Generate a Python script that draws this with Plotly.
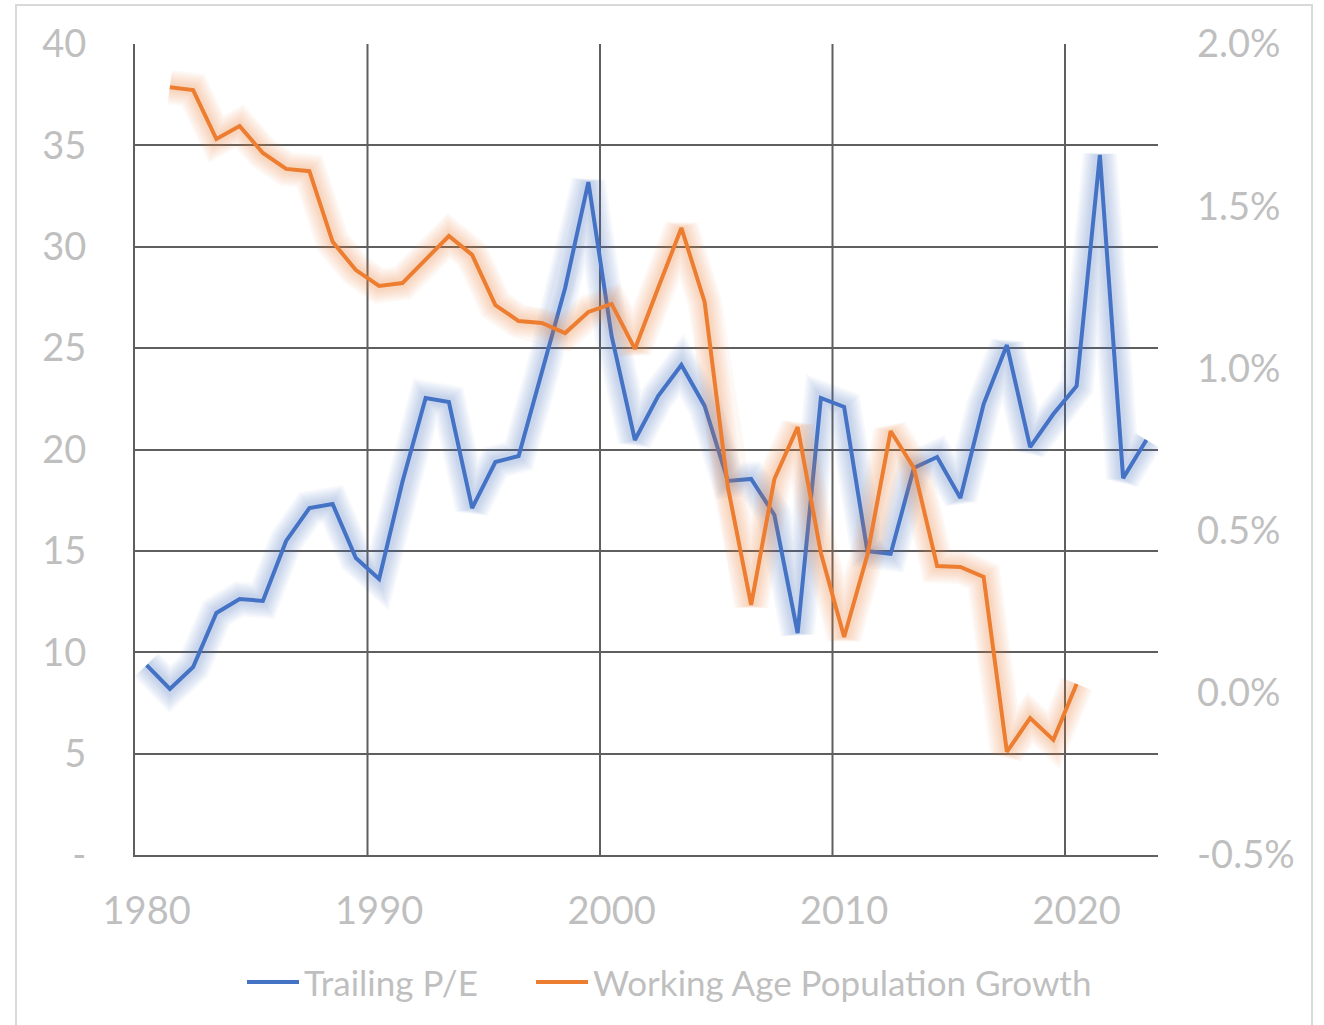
import plotly.graph_objects as go

# ---- data -----------------------------------------------------------------
pe_years = [1980, 1981, 1982, 1983, 1984, 1985, 1986, 1987, 1988, 1989,
            1990, 1991, 1992, 1993, 1994, 1995, 1996, 1997, 1998, 1999,
            2000, 2001, 2002, 2003, 2004, 2005, 2006, 2007, 2008, 2009,
            2010, 2011, 2012, 2013, 2014, 2015, 2016, 2017, 2018, 2019,
            2020, 2021, 2022, 2023]
trailing_pe = [9.37, 8.19, 9.27, 11.94, 12.63, 12.53, 15.49, 17.11, 17.31, 14.65,
               13.61, 18.40, 22.54, 22.34, 17.11, 19.38, 19.68, 23.77, 27.97, 33.19,
               25.60, 20.47, 22.64, 24.17, 22.15, 18.45, 18.55, 16.77, 10.95, 22.54,
               22.10, 14.99, 14.85, 19.09, 19.63, 17.61, 22.24, 25.15, 20.12, 21.75,
               23.13, 34.53, 18.59, 20.47]

pop_years = [1981, 1982, 1983, 1984, 1985, 1986, 1987, 1988, 1989,
             1990, 1991, 1992, 1993, 1994, 1995, 1996, 1997, 1998, 1999,
             2000, 2001, 2002, 2003, 2004, 2005, 2006, 2007, 2008, 2009,
             2010, 2011, 2012, 2013, 2014, 2015, 2016, 2017, 2018, 2019,
             2020]
pop_growth = [0.01867, 0.01858, 0.01707, 0.01747, 0.01664, 0.01615, 0.01608, 0.01390, 0.01303,
              0.01254, 0.01263, 0.01334, 0.01408, 0.01350, 0.01195, 0.01146, 0.01140, 0.01109, 0.01174,
              0.01199, 0.01060, 0.01248, 0.01433, 0.01205, 0.00634, 0.00271, 0.00659, 0.00819, 0.00431,
              0.00172, 0.00425, 0.00807, 0.00693, 0.00391, 0.00388, 0.00357, -0.00182, -0.00078, -0.00145,
              0.00027]

left_ticks = [0, 5, 10, 15, 20, 25, 30, 35, 40]
left_labels = ["-", "5", "10", "15", "20", "25", "30", "35", "40"]
right_ticks = [-0.005, 0.0, 0.005, 0.01, 0.015, 0.02]
right_labels = ["-0.5%", "0.0%", "0.5%", "1.0%", "1.5%", "2.0%"]
year_ticks = [1980, 1990, 2000, 2010, 2020]
decade_edges = [1989.5, 1999.5, 2009.5, 2019.5]

# ---- styling --------------------------------------------------------------
BLUE = "#4472C4"
ORANGE = "#ED7D31"
TEXT = "#BFBFBF"
GRID = "#5F5F5F"
FONT = "Lato, 'Open Sans', sans-serif"
TICK_SIZE = 38
LEGEND_SIZE = 35

fig = go.Figure()


def add_series(x, y, color, name, yaxis, legend):
    # soft halo: stacked wide, faint strokes under the main line
    for width in [34, 30, 26, 22, 18, 14, 10]:
        fig.add_trace(go.Scatter(
            x=x, y=y, mode="lines", yaxis=yaxis, showlegend=False,
            hoverinfo="skip", opacity=0.045,
            line=dict(color=color, width=width),
        ))
    fig.add_trace(go.Scatter(
        x=x, y=y, mode="lines", name=name, yaxis=yaxis, legend=legend,
        line=dict(color=color, width=4),
    ))


add_series(pe_years, trailing_pe, BLUE, "Trailing P/E", "y", "legend")
add_series(pop_years, pop_growth, ORANGE, "Working Age Population Growth", "y2", "legend2")

# vertical gridlines sit between category slots, every ten years
for xe in decade_edges:
    fig.add_shape(type="line", xref="x", yref="paper", x0=xe, x1=xe, y0=0, y1=1,
                  line=dict(color=GRID, width=2), layer="below")

# outer chart border
fig.add_shape(type="rect", xref="paper", yref="paper",
              x0=(16 - 135) / 1023, x1=(1312 - 135) / 1023,
              y0=(855 - 1030) / 811, y1=(855 - 5) / 811,
              line=dict(color="#D9D9D9", width=2), fillcolor="rgba(0,0,0,0)",
              layer="below")

legend_style = dict(
    orientation="h", xanchor="left", y=-0.157, yanchor="middle",
    font=dict(family=FONT, size=LEGEND_SIZE, color=TEXT),
    bgcolor="rgba(0,0,0,0)", itemwidth=52,
)

fig.update_layout(
    width=1324, height=1025,
    margin=dict(l=135, r=166, t=44, b=170),
    paper_bgcolor="white", plot_bgcolor="white",
    font=dict(family=FONT, size=TICK_SIZE, color=TEXT),
    xaxis=dict(
        range=[1979.5, 2023.5], tickvals=year_ticks, showgrid=False,
        zeroline=False, showline=True, linecolor=GRID, linewidth=2,
        ticks="", ticklabelstandoff=21,
        tickfont=dict(family=FONT, size=TICK_SIZE, color=TEXT),
    ),
    yaxis=dict(
        range=[0, 40], tickvals=left_ticks, ticktext=left_labels,
        showgrid=True, gridcolor=GRID, gridwidth=2, zeroline=False,
        showline=True, linecolor=GRID, linewidth=2, ticks="",
        ticklabelstandoff=39,
        tickfont=dict(family=FONT, size=TICK_SIZE, color=TEXT),
    ),
    yaxis2=dict(
        range=[-0.005, 0.02], tickvals=right_ticks, ticktext=right_labels,
        overlaying="y", side="right", showgrid=False, zeroline=False,
        showline=False, ticks="", ticklabelstandoff=38,
        tickfont=dict(family=FONT, size=TICK_SIZE, color=TEXT),
    ),
    legend=dict(x=(242 - 135) / 1023, **legend_style),
    legend2=dict(x=(531 - 135) / 1023, **legend_style),
    showlegend=True,
)

fig.write_html("out.html")
